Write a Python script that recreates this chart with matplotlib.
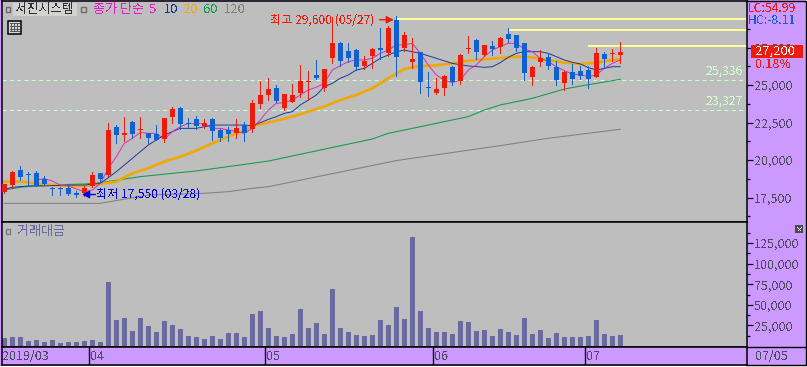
#!/usr/bin/env python3
"""Daily candle chart with moving averages and traded value panel."""
import numpy as np
import matplotlib
matplotlib.use('Agg')
import matplotlib.pyplot as plt
from matplotlib.patches import Rectangle
from matplotlib.ticker import FuncFormatter, FixedLocator

plt.rcParams['font.family'] = ['Noto Sans CJK KR', 'DejaVu Sans']
plt.rcParams['text.antialiased'] = False

# ── Data ────────────────────────────────────────────────────────────
opens = [17850, 18350, 19350, 19050, 19150, 18750, 18100, 18100, 18150, 17800,
         17800, 18250, 19150, 19000, 22200, 21650, 22550, 22000, 21800, 21750,
         21400, 22850, 23450, 22450, 22750, 22250, 22750, 22000, 22000, 21800,
         22350, 22050, 23750, 24350, 24800, 23450, 23850, 24450, 25200, 25650,
         24800, 26800, 27800, 27250, 27350, 26250, 26950, 27450, 27150, 29350,
         27450, 26550, 27200, 24850, 24450, 24800, 26200, 25250, 27400, 28000,
         27000, 27600, 27550, 28400, 28350, 27800, 25550, 26550, 26850, 26200,
         25150, 25850, 25950, 26000, 25550, 27050, 27050, 27000]
highs = [18400, 19250, 19600, 19200, 19250, 18950, 18200, 18200, 18350, 17950,
         18250, 19200, 19150, 22450, 22350, 22850, 22600, 22850, 21800, 22350,
         22800, 23550, 23550, 22800, 22950, 22750, 22800, 22050, 22200, 22750,
         22550, 24000, 25250, 25450, 25000, 24400, 25050, 26350, 25950, 26650,
         26050, 29550, 27850, 27800, 27400, 26950, 27450, 28800, 28950, 29600,
         28550, 28150, 27200, 25850, 25450, 25650, 26250, 27050, 28250, 28050,
         27650, 27950, 28200, 28800, 28350, 27800, 26250, 27350, 27150, 26600,
         25950, 26400, 26250, 26250, 27450, 27200, 27400, 27850]
lows = [17800, 18150, 18650, 18350, 18250, 18350, 17650, 17650, 17650, 17550,
        17600, 18200, 18550, 18950, 21150, 21250, 21450, 21450, 21150, 21350,
        21200, 22450, 22050, 22150, 22050, 22150, 21350, 21250, 21250, 21450,
        21250, 21850, 23450, 24000, 23850, 23350, 23850, 24200, 24000, 25400,
        24600, 26450, 26250, 26550, 26000, 26050, 26150, 26750, 26950, 25600,
        27250, 26150, 24450, 24250, 24400, 24350, 25000, 25050, 27150, 26750,
        26950, 27000, 27150, 27850, 27250, 25350, 25000, 26250, 26050, 25000,
        24650, 25050, 25400, 24800, 25550, 26150, 26600, 26450]
closes = [18400, 19200, 18850, 19000, 18350, 18400, 18050, 18050, 17750, 17700,
          18150, 19000, 18750, 22000, 21650, 21800, 21750, 22050, 21450, 21350,
          22800, 23400, 22400, 22400, 22250, 22450, 21950, 21450, 21750, 22150,
          21800, 23800, 24350, 24750, 23950, 24400, 24350, 25250, 25250, 25450,
          26050, 27800, 26600, 26800, 26200, 26600, 27400, 27350, 28800, 26850,
          28350, 26750, 25200, 24800, 24750, 25600, 25200, 27000, 27450, 27200,
          27650, 27400, 28150, 28050, 27450, 25800, 26200, 26800, 26250, 25350,
          25850, 25400, 25600, 25400, 27150, 26750, 27150, 27200]

ma5_idx = list(range(4, 78))
ma5 = [18670, 18760, 18600, 18330, 18270, 18070, 17890, 18000, 18440, 19440,
       20220, 21110, 21440, 21840, 21780, 21780, 21380, 21890, 22220, 22440,
       22440, 22400, 22110, 22110, 22000, 21890, 21780, 22110, 22670, 23330,
       23780, 23820, 24000, 24330, 24670, 24850, 25110, 26000, 26290, 26560,
       26670, 26670, 26780, 27110, 27330, 27670, 27670, 27780, 27110, 26330,
       25670, 25330, 25160, 25330, 26000, 26330, 26890, 27330, 27560, 27780,
       27780, 27400, 27220, 26780, 26560, 26220, 25960, 25730, 25670, 25560,
       25670, 26110, 26440, 26670]

ma10_idx = [0, 1, 3, 5, 8, 10, 12, 14, 16, 18, 20, 22, 24, 26, 28, 30, 31, 32, 33,
            34, 35, 36, 37, 38, 39, 40, 41, 42, 43, 44, 45, 46, 47, 48, 49, 50,
            51, 52, 54, 56, 58, 60, 61, 62, 63, 64, 65, 67, 68, 69, 70, 71, 72,
            73, 74, 75, 76, 77]
ma10 = [18040, 18180, 18270, 18270, 18330, 18330, 18440, 19220, 20110, 21000,
        21670, 22110, 22110, 22330, 22330, 22330, 22290, 22490, 22710, 22890,
        23110, 23220, 23670, 24000, 24330, 24890, 25110, 25450, 25670, 26000,
        26110, 26440, 26780, 27000, 27220, 27330, 27220, 27110, 26780, 26440,
        26270, 26180, 26220, 26490, 26850, 27110, 27220, 27220, 27110, 26890,
        26670, 26510, 26400, 26160, 26000, 26110, 26220, 26220]

ma20_idx = [0, 2, 4, 6, 8, 10, 12, 14, 16, 18, 20, 22, 24, 26, 28, 30, 31, 33, 36,
            38, 40, 42, 44, 46, 48, 50, 52, 54, 56, 58, 60, 62, 64, 66, 68, 70,
            72, 74, 76, 77]
ma20 = [18560, 18560, 18450, 18330, 18270, 18270, 18400, 18560, 19110, 19450,
        19890, 20220, 20620, 21110, 21560, 21960, 22270, 22490, 22890, 23220,
        23560, 24000, 24330, 24780, 25450, 26070, 26270, 26310, 26440, 26620,
        26710, 26800, 26890, 26850, 26670, 26490, 26400, 26490, 26670, 26710]

ma60_idx = [0, 2, 5, 10, 12, 17, 21, 24, 28, 31, 33, 46, 48, 52, 56, 58, 60, 62,
            66, 70, 72, 74, 77]
ma60 = [18000, 18180, 18330, 18400, 18490, 18890, 19110, 19270, 19560, 19780,
        19930, 21400, 21780, 22220, 22670, 22890, 23330, 23670, 24110, 24730,
        24930, 25110, 25380]

ma120_idx = [0, 12, 18, 25, 28, 31, 33, 49, 62, 68, 77]
ma120 = [17110, 17110, 17670, 17780, 17890, 18110, 18220, 19960, 20960, 21450, 22050]

volume = [9710, 10920, 10920, 6070, 7280, 4850, 7280, 3640, 4850, 4850,
          6070, 7280, 4850, 77660, 31550, 33980, 18200, 33980, 24270, 16990,
          30340, 25480, 20630, 12130, 10920, 8490, 12130, 8490, 15770, 15770,
          10920, 38830, 42470, 21840, 12130, 10920, 14560, 44900, 21840, 27910,
          14560, 69170, 21840, 16990, 13350, 12130, 13350, 31550, 25480, 47320,
          32760, 132270, 42470, 21840, 16990, 16990, 14560, 30340, 29120, 18200,
          19420, 12130, 20630, 16990, 13350, 33980, 14560, 19420, 9710, 15770,
          10920, 10920, 10920, 12130, 31550, 14560, 12130, 13350]

resist_levels = [29400, 28670, 27600]
resist_start = [49, 63, 73]
support_levels = [25336, 23327]

price_ticks = [17500, 20000, 22500, 25000, 27500]
vol_ticks = [25000, 50000, 75000, 100000, 125000]
month_starts = [11, 33, 54, 73]
month_labels = ['04', '05', '06', '07']

# ── Layout (pixel boxes) ────────────────────────────────────────────
W, H = 807, 367
BG = '#BEBEBE'
PURPLE = '#CC99FF'
RED = '#EC1C0C'
BLUE = '#1060D0'
VOLC = '#6A6A9E'
AXC = '#4E4A60'
XLIM = (-0.29, 92.8)

fig = plt.figure(figsize=(W / 100, H / 100), dpi=100, facecolor=PURPLE)


def px_axes(x0, y0, x1, y1):
    return fig.add_axes([x0 / W, 1 - y1 / H, (x1 - x0) / W, (y1 - y0) / H])


ax = px_axes(2, 1, 746.7, 222)
ax_v = px_axes(2, 222, 746.7, 347)
ax_d = px_axes(2, 347, 746.7, 365)

# ── Price panel ─────────────────────────────────────────────────────
ax.set_facecolor(BG)
ax.set_xlim(*XLIM)
ax.set_ylim(15867, 30600)

x = np.arange(len(closes))
o, h, l, c = map(np.array, (opens, highs, lows, closes))
up = c >= o
colors = np.where(up, RED, BLUE)

for lev, start in zip(resist_levels, resist_start):
    ax.plot([start, XLIM[1]], [lev, lev], color='#FFFF99', lw=1.4, zorder=1, solid_capstyle='butt')
for lev in support_levels:
    ax.axhline(lev, color='#CCFFCC', lw=0.75, ls=(0, (4, 3)), zorder=1)

ax.plot(ma120_idx, ma120, color='#808080', lw=0.75, zorder=2)
ax.plot(ma60_idx, ma60, color='#109A50', lw=0.75, zorder=2)
ax.plot(ma20_idx, ma20, color='#F0A800', lw=1.9, zorder=2)
ax.plot(ma10_idx, ma10, color='#1030A0', lw=0.65, zorder=2)
ax.plot(ma5_idx, ma5, color='#E020C0', lw=0.65, zorder=2)

ax.vlines(x, l, h, colors=colors, lw=0.72, zorder=3, antialiased=False)
body = np.maximum(np.abs(c - o), 70)
ax.bar(x, body, bottom=np.minimum(o, c), width=0.62, color=colors, lw=0, zorder=4)

ax.text(XLIM[1] - 0.5, 25336 + 600, '25,336', color='#CCFFCC', fontsize=8.8, ha='right', va='center', zorder=5)
ax.text(XLIM[1] - 0.5, 23327 + 600, '23,327', color='#CCFFCC', fontsize=8.8, ha='right', va='center', zorder=5)

# high / low markers
ax.annotate('', xy=(48.7, opens[49]), xytext=(46.9, opens[49]), zorder=6,
            arrowprops=dict(arrowstyle='-|>', color=RED, lw=1.0, mutation_scale=11, shrinkA=0, shrinkB=0))
ax.text(46.3, opens[49], '최고 29,600 (05/27)', color=RED, fontsize=8.7, ha='right', va='center', zorder=6)
ax.annotate('', xy=(9.7, closes[9]), xytext=(11.4, closes[9]), zorder=6,
            arrowprops=dict(arrowstyle='-|>', color='#0000EE', lw=1.0, mutation_scale=11, shrinkA=0, shrinkB=0))
ax.text(11.5, closes[9], '최저 17,550 (03/28)', color='#0000EE', fontsize=8.7, ha='left', va='center', zorder=6)

ax.set_xticks([])
ax.yaxis.tick_right()
ax.yaxis.set_major_locator(FixedLocator(price_ticks))
ax.yaxis.set_minor_locator(FixedLocator(np.arange(16250, 30000, 1250)))
ax.yaxis.set_major_formatter(FuncFormatter(lambda v, _: f'{v:,.0f}'))
ax.tick_params(axis='y', which='major', length=4.3, width=0.9, color='black', labelcolor=AXC, labelsize=9, pad=1)
ax.tick_params(axis='y', which='minor', length=2.2, width=0.9, color='black')

# ── Volume panel ────────────────────────────────────────────────────
ax_v.set_facecolor(BG)
ax_v.set_xlim(*XLIM)
ax_v.set_ylim(-1214, 150500)
ax_v.bar(x, volume, width=0.62, color=VOLC, lw=0)
ax_v.set_xticks([])
ax_v.yaxis.tick_right()
ax_v.yaxis.set_major_locator(FixedLocator(vol_ticks))
ax_v.yaxis.set_minor_locator(FixedLocator(np.arange(12500, 150000, 25000)))
ax_v.yaxis.set_major_formatter(FuncFormatter(lambda v, _: f'{v:,.0f}'))
ax_v.tick_params(axis='y', which='major', length=4.3, width=0.9, color='black', labelcolor=AXC, labelsize=9, pad=1)
ax_v.tick_params(axis='y', which='minor', length=2.2, width=0.9, color='black')

# ── Date bar ────────────────────────────────────────────────────────
ax_d.set_facecolor(PURPLE)
ax_d.set_xlim(*XLIM)
ax_d.set_ylim(0, 1)
ax_d.set_xticks([])
ax_d.set_yticks([])
ax_d.text(0, 0.48, '2019/03', color=AXC, fontsize=9, va='center', ha='left', transform=ax_d.get_yaxis_transform())
for m, lab in zip(month_starts, month_labels):
    ax_d.axvline(m - 0.4, color='black', lw=1.0)
    ax_d.text(m - 0.25, 0.48, lab, color=AXC, fontsize=9, va='center', ha='left')

for a in (ax, ax_v, ax_d):
    for sp in a.spines.values():
        sp.set_color('black')
        sp.set_linewidth(1.1)

# ── Screen decoration in pixel coordinates ──────────────────────────
ui = fig.add_axes([0, 0, 1, 1], zorder=10)
ui.set_xlim(0, W)
ui.set_ylim(H, 0)
ui.axis('off')

ui.add_patch(Rectangle((0, 365.5), W, 2, fc='white', ec='none'))
ui.add_patch(Rectangle((805.5, 0), 2, 366, fc='white', ec='none'))
ui.plot([746, 805.5, 805.5, 746], [0.7, 0.7, 365, 365], color='black', lw=1.0)
ui.plot([746, 805.5], [347, 347], color='black', lw=1.0)

ui.add_patch(Rectangle((13, 3), 64, 13, fc='#D2D2D2', ec='none'))
ui.text(45, 9.5, '서진시스템', color='#303030', fontsize=9.2, ha='center', va='center')
for sx in (5.5, 81):
    ui.add_patch(Rectangle((sx, 7), 4.5, 4.5, fc='none', ec='#6A6A6A', lw=1))
legend_items = [('종가 단순', 93, '#E020C0'), ('5', 149, '#E020C0'), ('10', 164, '#1030A0'),
                ('20', 183, '#F0A800'), ('60', 203, '#109A50'), ('120', 224, '#808080')]
for lab, lx, col in legend_items:
    ui.text(lx, 9.5, lab, color=col, fontsize=9.4, ha='left', va='center')

# table icon
ui.add_patch(Rectangle((7.5, 20.5), 13, 13, fc='#D8D8D8', ec='black', lw=1.1))
for gx in (11, 14, 17):
    ui.plot([gx, gx], [23, 31], color='#555555', lw=0.7)
for gy in (23, 26, 29, 31):
    ui.plot([10, 18.5], [gy, gy], color='#555555', lw=0.7)

ui.add_patch(Rectangle((5.5, 229), 4.5, 4.5, fc='none', ec='#7A7A7A', lw=1))
ui.text(17, 231.5, '거래대금', color=VOLC, fontsize=9.4, ha='left', va='center')
ui.add_patch(Rectangle((795, 225), 8, 8, fc='#4A4A4A', ec='none'))
ui.text(799, 229, '×', color='white', fontsize=5.5, ha='center', va='center')

ui.text(747.5, 8.5, 'LC:54.99', color=RED, fontsize=8.8, ha='left', va='center')
ui.text(747.5, 20, 'HC:-8.11', color=BLUE, fontsize=8.8, ha='left', va='center')
ui.add_patch(Rectangle((751, 45), 52, 13, fc=RED, ec='none'))
ui.text(755, 51.5, f'{closes[-1]:,}', color='white', fontsize=9.4, ha='left', va='center')
ui.text(755, 64, '0.18%', color=RED, fontsize=9, ha='left', va='center')
ui.text(755, 356, '07/05', color=AXC, fontsize=9, ha='left', va='center')

fig.savefig('out.png', dpi=100, facecolor=PURPLE)
